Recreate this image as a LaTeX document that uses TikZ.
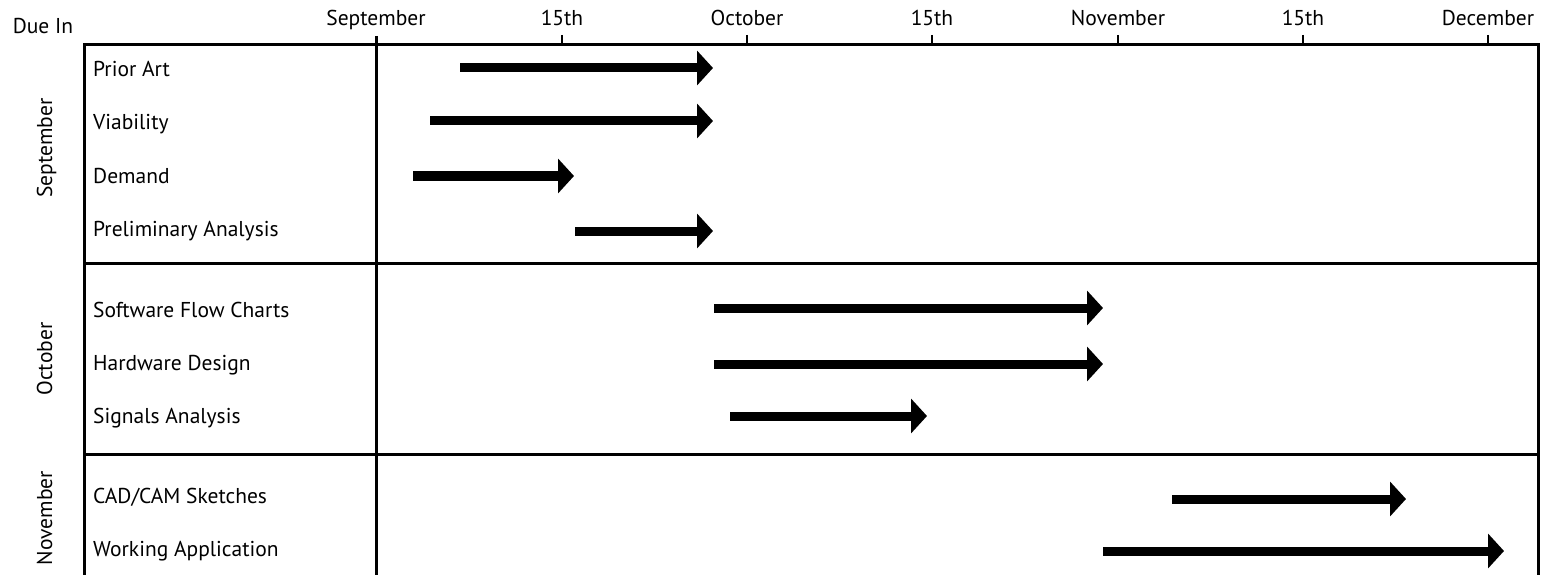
\documentclass[tikz,border=0pt]{standalone}
\usepackage{fontspec}
\setmainfont{PT Sans}
\usetikzlibrary{arrows.meta}
\begin{document}
\begin{tikzpicture}[x=1pt,y=-1pt,
  frame/.style={line width=3pt},
  tickline/.style={line width=2.5pt},
  lbl/.style={font=\fontsize{21.5}{24}\selectfont, inner sep=0pt},
  head/.style={lbl, anchor=base},
  task/.style={lbl, anchor=base west},
  month/.style={lbl, rotate=90, anchor=base},
  bar/.style={line width=9pt, -{Triangle[length=16pt,width=34pt]}}]
\useasboundingbox (0,0) rectangle (1545,575);
% frame
\draw[frame] (84,580) -- (84,45) -- (1538,45) -- (1538,580);
\draw[frame] (376,36) -- (376,580);
\draw[frame] (84,263) -- (1538,263);
\draw[frame] (84,454) -- (1538,454);
% ticks
\foreach \x in {562,747,932,1118,1303,1488}
  \draw[tickline] (\x,35) -- (\x,45);
% header
\node[head] (duein) at (43,34) {Due In};
\node[head] (h1) at (376,26) {September};
\node[head] (h2) at (562,26) {15th};
\node[head] (h3) at (747,26) {October};
\node[head] (h4) at (932,26) {15th};
\node[head] (h5) at (1118,26) {November};
\node[head] (h6) at (1303,26) {15th};
\node[head] (h7) at (1488,26) {December};
% month groups
\node[month] (m1) at (52,148) {September};
\node[month] (m2) at (52,359) {October};
\node[month] (m3) at (52,518) {November};
% tasks
\node[task] (t1) at (93,77) {Prior Art};
\node[task] (t2) at (93,130) {Viability};
\node[task] (t3) at (93,183) {Demand};
\node[task] (t4) at (93,236) {Preliminary Analysis};
\node[task] (t5) at (93,317) {Software Flow Charts};
\node[task] (t6) at (93,370) {Hardware Design};
\node[task] (t7) at (93,423) {Signals Analysis};
\node[task] (t8) at (93,503) {CAD/CAM Sketches};
\node[task] (t9) at (93,556) {Working Application};
% bars
\draw[bar] (460,68) -- (713,68);
\draw[bar] (430,121) -- (713,121);
\draw[bar] (413,176) -- (574,176);
\draw[bar] (575,231) -- (713,231);
\draw[bar] (714,308) -- (1103,308);
\draw[bar] (714,364) -- (1103,364);
\draw[bar] (730,416) -- (927,416);
\draw[bar] (1172,499) -- (1406,499);
\draw[bar] (1103,551) -- (1504,551);
\end{tikzpicture}
\end{document}
